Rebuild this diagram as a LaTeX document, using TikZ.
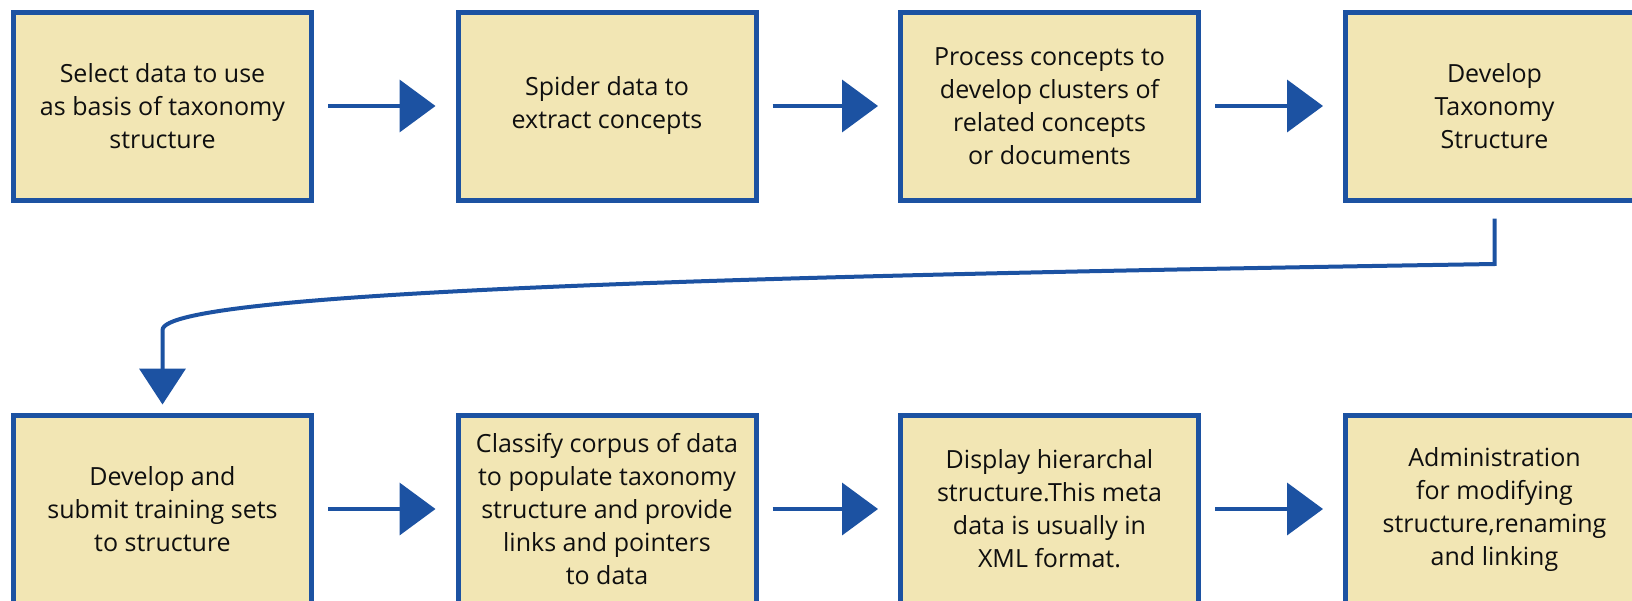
\documentclass[tikz,border=0pt]{standalone}
\usepackage{fontspec}
\setmainfont{Open Sans}
\usetikzlibrary{arrows.meta}
\definecolor{boxfill}{RGB}{242,230,180}
\definecolor{boxline}{RGB}{28,82,162}
\definecolor{txt}{RGB}{15,15,15}
\tikzset{
  stepbox/.style={draw=boxline, line width=2.5pt, fill=boxfill,
    minimum width=149pt, minimum height=94pt, inner sep=0pt,
    align=center, text=txt,
    font=\fontsize{12.5pt}{16.5pt}\selectfont},
  flow/.style={draw=boxline, line width=2pt,
    -{Triangle[width=26pt,length=18pt]}},
}
\begin{document}
\begin{tikzpicture}[x=0.5pt,y=-0.5pt]
\useasboundingbox (0,0) rectangle (1632,600);
\clip (0,0) rectangle (1632,600);

% top row
\node[stepbox] (b1) at (162.5,106) {Select data to use\\as basis of taxonomy\\structure};
\node[stepbox] (b2) at (607,106) {Spider data to\\extract concepts};
\node[stepbox] (b3) at (1049.5,106) {Process concepts to\\develop clusters of\\related concepts\\or documents};
\node[stepbox] (b4) at (1494.5,106) {Develop\\Taxonomy\\Structure};

% bottom row
\node[stepbox] (b5) at (162.5,509) {Develop and\\submit training sets\\to structure};
\node[stepbox] (b6) at (607,509) {Classify corpus of data\\to populate taxonomy\\structure and provide\\links and pointers\\to data};
\node[stepbox] (b7) at (1049.5,509) {Display hierarchal\\structure.This meta\\data is usually in\\XML format.};
\node[stepbox] (b8) at (1494.5,509) {Administration\\for modifying\\structure,renaming\\and linking};

% horizontal connectors
\foreach \a/\b in {b1/b2,b2/b3,b3/b4,b5/b6,b6/b7,b7/b8}
  \draw[flow, shorten <=7pt, shorten >=10pt] (\a) -- (\b);

% return connector from the end of the top row to the start of the bottom row
\coordinate (k1) at (1494.5,264);
\coordinate (k2) at (162.5,330);
\draw[flow, -{Triangle[width=23pt,length=18pt]}, shorten <=8pt, shorten >=4pt]
  (b4.south) -- (k1) .. controls (800,275) and (162.5,290) .. (k2) -- (b5.north);
\end{tikzpicture}
\end{document}
